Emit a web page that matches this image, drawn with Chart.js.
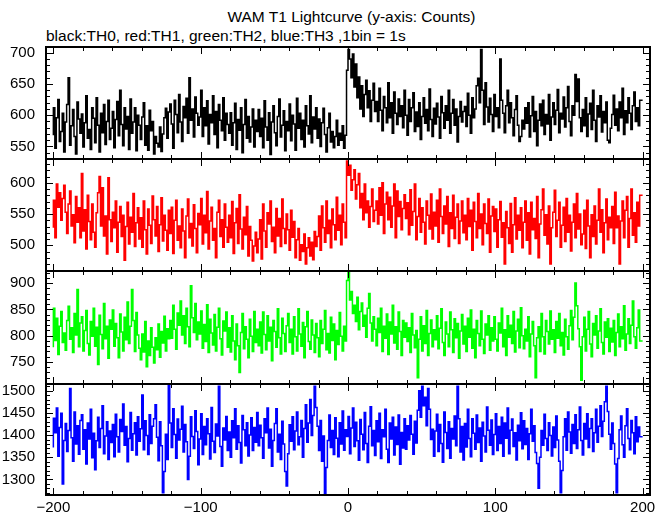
<!DOCTYPE html>
<html>
<head>
<meta charset="utf-8">
<script src="https://cdn.jsdelivr.net/npm/chart.js@4"></script>
<style>
body{margin:0;background:#fff;}
#wrap{position:relative;width:669px;height:515px;background:#fff;overflow:hidden;font-family:"Liberation Sans",Arial,sans-serif;color:#000;}
#wrap canvas{position:absolute;left:0;top:0;}
.txt{position:absolute;white-space:nowrap;font-size:15.5px;line-height:18px;}
</style>
</head>
<body>
<div id="wrap">
  <div class="txt" style="left:0;width:703px;text-align:center;top:8px">WAM T1 Lightcurve (y-axis: Counts)</div>
  <div class="txt" style="left:46px;top:27px">black:TH0, red:TH1, green:TH2, blue:TH3 ,1bin = 1s</div>
</div>
<script>
// 1 s bins, first bin starts at -200
let xStart=-200;
let xTicks=[-200,-100,0,100,200];

let th0=[
568,612,547,596,625,558,574,603,541,589,617,660,552,583,609,566,538,621,594,571,
602,549,588,631,563,577,545,612,595,556,628,584,541,603,572,617,553,590,624,561,
579,606,548,593,622,567,640,585,551,612,578,598,545,626,571,589,612,543,600,584,
561,597,620,552,583,544,608,575,590,538,566,555,549,581,542,570,596,611,563,605,
618,586,547,624,601,572,633,589,558,614,596,627,571,660,592,610,565,629,603,584,
597,640,566,612,583,623,554,601,588,631,569,606,548,617,592,575,628,560,603,585,
571,604,552,588,619,545,593,576,612,540,585,625,563,598,557,581,610,549,592,574,
609,566,595,548,623,581,560,604,537,589,615,572,551,598,626,565,584,607,543,590,
575,618,559,600,586,544,627,579,603,561,592,549,615,583,570,631,556,597,578,612,
563,594,550,588,611,569,541,580,603,557,574,548,566,592,552,571,560,583,547,568,
672,705,690,660,698,645,682,628,661,610,647,598,633,656,612,639,590,624,651,606,
622,590,643,608,575,630,612,588,652,596,620,571,637,603,585,626,598,615,580,640,
600,568,625,590,612,636,574,605,582,620,561,598,628,587,609,575,642,593,566,611,
586,619,597,563,630,604,579,615,592,640,571,603,625,584,610,557,598,622,589,606,
614,582,635,600,571,628,596,610,647,659,620,705,640,585,652,613,589,627,601,574,
633,598,612,580,690,624,603,572,615,640,588,620,596,567,609,631,584,558,566,592,
578,612,587,620,565,599,630,574,606,551,592,618,583,624,569,601,586,633,560,597,
620,585,608,641,572,603,594,629,581,612,646,590,567,615,600,665,622,658,596,574,
609,583,628,566,602,619,577,640,592,558,615,597,631,573,606,588,621,560,556,579,
601,632,584,610,575,621,596,643,569,607,588,628,603,577,615,637,590,612,583,624
];
let th1=[
528,572,512,598,561,584,540,575,596,553,519,566,587,531,549,504,578,537,560,512,
615,523,557,494,580,538,509,566,521,497,552,584,610,531,592,515,547,486,608,541,
506,553,528,571,489,537,562,514,548,476,530,569,502,545,521,583,498,536,560,510,
544,497,571,525,486,558,532,503,579,541,515,562,490,533,576,507,548,524,492,556,
519,561,487,540,572,508,531,496,558,523,480,547,574,512,535,499,565,527,488,551,
533,575,502,548,520,586,494,539,561,508,527,480,553,572,514,541,497,566,529,505,
548,512,570,487,536,559,503,581,526,494,545,517,562,483,530,508,475,499,521,488,
510,541,478,566,523,497,552,534,571,506,529,488,559,515,543,498,574,527,503,550,
525,492,556,513,538,480,509,527,476,501,490,518,470,496,512,483,505,477,522,498,
514,547,492,563,528,505,571,519,540,496,558,533,509,577,524,548,501,566,537,512,
635,612,628,588,605,621,574,597,615,560,583,541,598,552,571,529,562,590,538,556,
571,534,592,548,600,519,566,585,541,577,529,563,598,512,587,546,570,525,559,581,
543,568,517,589,532,554,598,509,546,575,521,560,537,502,571,548,526,582,510,553,
531,572,505,590,546,519,563,534,578,498,552,527,580,511,545,566,503,539,571,520,
548,509,575,530,556,492,569,538,512,583,527,550,501,566,535,519,574,489,547,562,
522,558,497,541,570,513,536,470,554,528,503,567,489,533,576,510,548,524,560,496,
537,571,508,552,486,569,525,543,511,578,480,534,557,590,516,549,502,563,470,528,
553,588,514,540,569,497,532,561,506,575,521,548,491,537,566,512,583,526,550,501,
518,556,495,572,531,480,549,514,563,502,540,590,521,557,488,536,574,509,545,528,
562,503,585,528,547,470,539,571,512,556,578,497,543,590,516,552,505,569,531,580
];
let th2=[
778,852,791,833,764,818,846,787,805,772,829,856,793,815,768,842,801,888,779,824,
836,771,810,848,785,763,827,799,852,780,816,745,839,802,775,861,794,818,757,830,
812,849,780,823,796,758,841,807,771,835,792,864,785,818,888,829,770,844,801,776,
754,803,769,827,741,790,762,815,778,748,796,773,822,759,808,786,837,771,813,794,
829,795,858,812,774,843,820,866,801,838,785,852,817,779,895,834,806,861,792,826,
803,847,776,821,789,859,768,831,805,782,840,771,816,852,794,763,828,809,845,778,
815,769,838,790,754,822,781,730,806,842,775,817,793,758,831,799,770,846,787,812,
781,826,767,845,802,773,838,790,816,752,829,808,778,851,796,765,833,804,770,819,
842,787,812,765,836,798,771,851,803,780,825,758,817,846,789,774,830,801,768,823,
796,760,829,785,812,848,773,804,767,835,791,822,754,810,783,844,799,771,818,790,
905,920,868,884,842,858,827,873,811,846,862,818,839,797,852,880,824,790,836,812,
781,833,806,852,770,818,795,841,764,826,803,858,786,817,774,845,808,762,829,797,
824,789,815,768,842,801,777,810,720,793,836,771,819,785,848,762,804,830,779,811,
792,838,775,814,851,787,762,826,803,779,845,811,768,832,796,823,757,809,840,784,
818,770,833,797,849,776,812,758,829,804,781,847,793,766,822,801,838,772,815,790,
836,793,771,824,805,852,779,811,762,838,797,820,785,846,769,809,831,777,853,800,
775,812,790,836,760,803,827,781,720,796,817,770,842,798,765,829,808,784,847,793,
811,768,827,795,842,781,806,763,831,798,774,819,848,792,835,900,857,813,779,715,
798,835,771,812,846,784,760,823,801,838,776,809,851,787,765,826,797,832,770,814,
788,829,762,806,841,779,817,794,857,772,803,832,785,820,866,798,776,815,849,790
];
let th3=[
1372,1438,1405,1461,1352,1417,1449,1290,1388,1426,1363,1410,1505,1394,1341,1452,1380,1421,1357,1433,
1446,1368,1412,1335,1427,1391,1458,1349,1404,1322,1387,1440,1372,1415,1466,1358,1398,1430,1345,1409,
1383,1424,1351,1447,1396,1362,1435,1408,1470,1377,1419,1340,1392,1451,1366,1403,1428,1355,1441,1386,
1414,1490,1367,1432,1399,1356,1446,1381,1420,1437,1468,1395,1342,1430,1376,1270,1318,1402,1345,1515,
1427,1372,1459,1401,1348,1436,1389,1413,1465,1362,1424,1385,1300,1352,1441,1397,1370,1455,1408,1333,
1391,1448,1356,1419,1378,1437,1403,1346,1462,1386,1361,1425,1398,1510,1374,1330,1416,1389,1442,1365,
1407,1350,1432,1394,1459,1368,1421,1383,1337,1444,1412,1376,1428,1353,1400,1439,1365,1417,1384,1451,
1376,1422,1394,1348,1437,1405,1461,1371,1413,1330,1388,1426,1459,1362,1402,1345,1431,1380,1318,1285,
1358,1423,1386,1441,1367,1409,1452,1378,1396,1433,1350,1415,1468,1384,1427,1480,1399,1444,1510,1462,
1420,1365,1433,1341,1398,1265,1327,1388,1445,1372,1410,1356,1439,1393,1351,1428,1380,1454,1366,1412,
1397,1442,1358,1416,1461,1374,1429,1387,1343,1435,1402,1367,1451,1381,1338,1420,1464,1376,1410,1354,
1432,1385,1449,1347,1412,1396,1458,1368,1338,1427,1391,1440,1355,1418,1379,1445,1334,1406,1371,1437,
1368,1421,1389,1444,1402,1357,1431,1382,1456,1500,1440,1510,1466,1485,1421,1505,1458,1390,1413,1352,
1409,1447,1363,1424,1381,1339,1452,1406,1370,1430,1348,1415,1391,1443,1376,1510,1437,1362,1419,1344,
1426,1373,1458,1392,1351,1437,1404,1368,1445,1383,1416,1341,1429,1398,1362,1463,1411,1377,1434,1356,
1401,1448,1365,1419,1381,1440,1352,1427,1393,1461,1358,1411,1436,1374,1405,1344,1422,1387,1450,1369,
1432,1379,1415,1345,1403,1458,1386,1421,1361,1336,1280,1350,1410,1377,1447,1392,1365,1428,1399,1353,
1418,1372,1443,1389,1341,1270,1320,1396,1437,1366,1452,1407,1359,1424,1381,1446,1370,1412,1463,1388,
1355,1426,1391,1448,1372,1415,1437,1363,1405,1458,1384,1420,1466,1397,1431,1475,1510,1453,1402,1368,
1427,1381,1335,1270,1347,1412,1443,1378,1350,1421,1459,1392,1367,1433,1405,1358,1441,1385,1418,1396
];

let series=[th0,th1,th2,th3];
let colors=['#000000','#ff0000','#00ff00','#0000ff'];
let yRanges=[[530,709],[459,638],[708,923],[1265,1515]];
let yTicks=[[550,600,650,700],[500,550,600],[750,800,850,900],[1300,1350,1400,1450,1500]];

console.log(series.map(s=>s.length));

Chart.defaults.font.family='"Liberation Sans", Arial, sans-serif';
Chart.defaults.font.size=15;
Chart.defaults.color='#000';

function fmt(v){
    return v<0 ? '\u2212'+Math.abs(v) : String(v);
}

// frame + inward ticks, PGPLOT style
let frameTicks={
    id:'frameTicks',
    afterDatasetsDraw(chart){
        let ctx=chart.ctx;
        let a=chart.chartArea;
        let sx=chart.scales.x, sy=chart.scales.y;
        ctx.save();
        ctx.strokeStyle='#000';
        ctx.lineWidth=1;
        ctx.beginPath();
        for(let v=-200; v<=200; v+=20){
            let px=Math.round(sx.getPixelForValue(v))+0.5;
            let len=(v%100===0) ? 7 : 4;
            ctx.moveTo(px,a.top); ctx.lineTo(px,a.top+len);
            ctx.moveTo(px,a.bottom); ctx.lineTo(px,a.bottom-len);
        }
        for(let v=Math.ceil(sy.min/10)*10; v<=sy.max; v+=10){
            let py=Math.round(sy.getPixelForValue(v))+0.5;
            let len=(v%50===0) ? 7 : 4;
            ctx.moveTo(a.left,py); ctx.lineTo(a.left+len,py);
            ctx.moveTo(a.right,py); ctx.lineTo(a.right-len,py);
        }
        ctx.stroke();
        ctx.lineWidth=2;
        ctx.strokeRect(a.left,a.top,a.right-a.left,a.bottom-a.top);
        ctx.restore();
    }
};

let wrap=document.getElementById('wrap');
let tops=[47,159,271,384,496];

for(let k=0; k<series.length; k++){
    let cv=document.createElement('canvas');
    cv.width=669; cv.height=515;
    wrap.appendChild(cv);
    let last=(k===series.length-1);
    let vals=series[k];
    let pts=vals.map((v,i)=>({x:xStart+i, y:v}));
    pts.push({x:xStart+vals.length, y:vals[vals.length-1]});

    new Chart(cv,{
        type:'line',
        data:{datasets:[{
            data:pts,
            stepped:'after',
            borderColor:colors[k],
            borderWidth:1.5,
            pointRadius:0,
            fill:false
        }]},
        options:{
            responsive:false,
            animation:false,
            events:[],
            layout:{padding:{top:tops[k], bottom:last ? 0 : 515-tops[k+1], left:0, right:19}},
            plugins:{legend:{display:false}, tooltip:{enabled:false}, title:{display:false}},
            scales:{
                x:{
                    type:'linear', min:-205, max:205, display:last,
                    grid:{display:false, drawTicks:false}, border:{display:false},
                    afterBuildTicks:s=>{ s.ticks=xTicks.map(v=>({value:v})); },
                    afterFit:s=>{ s.height=last ? 19 : 0; },
                    ticks:{padding:4, autoSkip:false, maxRotation:0, callback:v=>fmt(v)}
                },
                y:{
                    type:'linear', min:yRanges[k][0], max:yRanges[k][1],
                    grid:{display:false, drawTicks:false}, border:{display:false},
                    afterBuildTicks:s=>{ s.ticks=yTicks[k].map(v=>({value:v})); },
                    afterFit:s=>{ s.width=46; },
                    ticks:{padding:11, autoSkip:false, callback:v=>fmt(v)}
                }
            }
        },
        plugins:[frameTicks]
    });
}
</script>
</body>
</html>
